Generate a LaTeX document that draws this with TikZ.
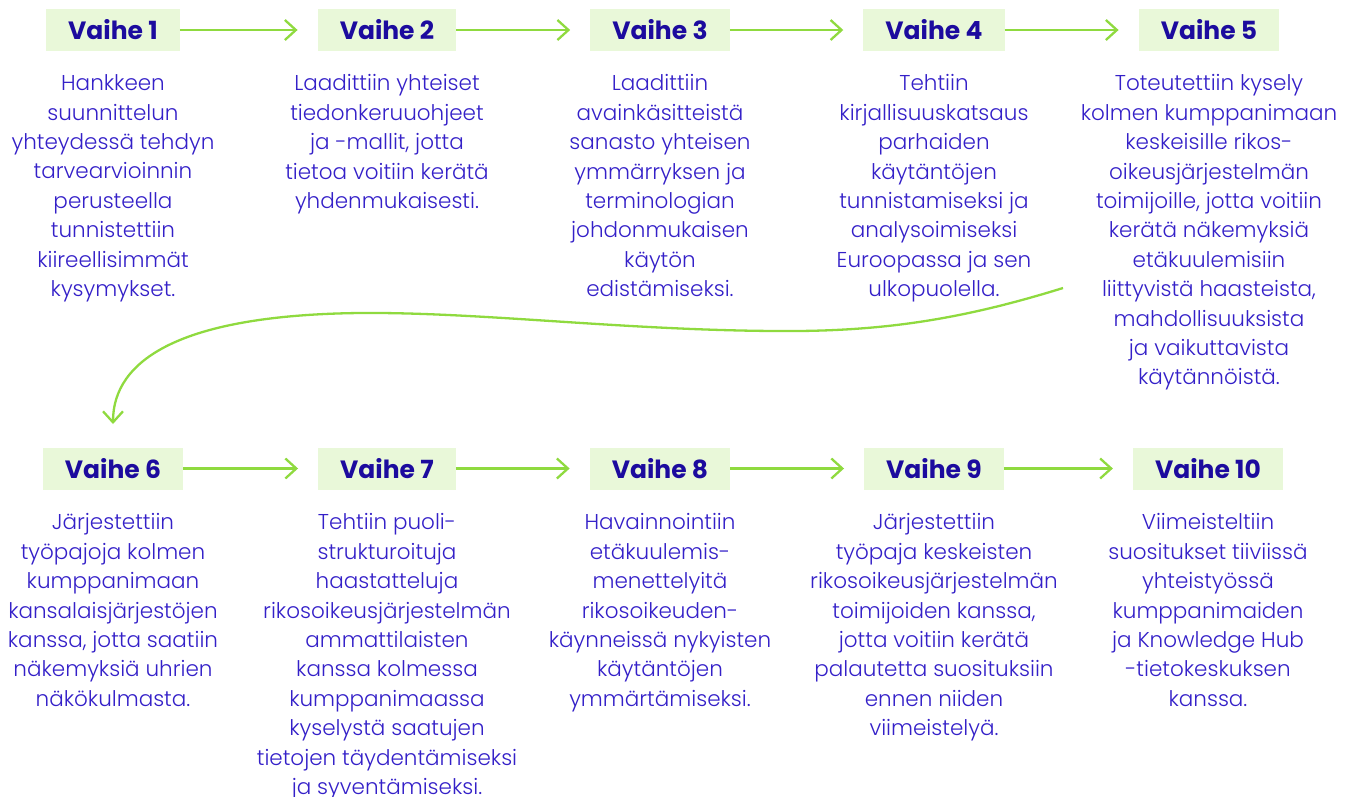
\documentclass[tikz,border=0pt]{standalone}
\usepackage{fontspec}
\setmainfont{Poppins}[UprightFont=* Light]
\newfontfamily\headfont{Poppins}[UprightFont=* Bold]
\usetikzlibrary{arrows.meta}
\definecolor{bodyblue}{HTML}{3420C8}
\definecolor{headblue}{HTML}{1C0B9E}
\definecolor{boxgreen}{HTML}{E9F8D9}
\definecolor{arrowgreen}{HTML}{8FDA3F}
\tikzset{
  stagebox/.style={fill=boxgreen, text=headblue, font=\headfont\fontsize{25}{30}\selectfont,
    minimum height=42pt, inner xsep=22pt, inner ysep=0pt, anchor=center},
  stagetext/.style={text=bodyblue, font=\fontsize{21.5}{29.4}\selectfont, align=center,
    anchor=north, inner sep=0pt},
  flow/.style={draw=arrowgreen, line width=2.3pt, -{Straight Barb[length=11pt,width=20pt,line width=2.3pt]}},
}
\begin{document}
\begin{tikzpicture}[x=1pt,y=-1pt]
\useasboundingbox (0,0) rectangle (1353,796);
% row 1 headers
\node[stagebox] (h1) at (113,30) {Vaihe 1};
\node[stagebox] (h2) at (387,30) {Vaihe 2};
\node[stagebox] (h3) at (660,30) {Vaihe 3};
\node[stagebox] (h4) at (934,30) {Vaihe 4};
\node[stagebox] (h5) at (1209,30) {Vaihe 5};
% row 2 headers
\node[stagebox] (h6) at (113,468.5) {Vaihe 6};
\node[stagebox] (h7) at (387,468.5) {Vaihe 7};
\node[stagebox] (h8) at (660,468.5) {Vaihe 8};
\node[stagebox] (h9) at (934,468.5) {Vaihe 9};
\node[stagebox] (h10) at (1208,468.5) {Vaihe 10};
% texts row 1
\node[stagetext] (t1) at (113,74.5) {Hankkeen\\suunnittelun\\yhteydessä tehdyn\\tarvearvioinnin\\perusteella\\tunnistettiin\\kiireellisimmät\\kysymykset.};
\node[stagetext] (t2) at (387,74.5) {Laadittiin yhteiset\\tiedonkeruuohjeet\\ja -mallit, jotta\\tietoa voitiin kerätä\\yhdenmukaisesti.};
\node[stagetext] (t3) at (660,74.5) {Laadittiin\\avainkäsitteistä\\sanasto yhteisen\\ymmärryksen ja\\terminologian\\johdonmukaisen\\käytön\\edistämiseksi.};
\node[stagetext] (t4) at (934,74.5) {Tehtiin\\kirjallisuuskatsaus\\parhaiden\\käytäntöjen\\tunnistamiseksi ja\\analysoimiseksi\\Euroopassa ja sen\\ulkopuolella.};
\node[stagetext] (t5) at (1209,74.5) {Toteutettiin kysely\\kolmen kumppanimaan\\keskeisille rikos-\\oikeusjärjestelmän\\toimijoille, jotta voitiin\\kerätä näkemyksiä\\etäkuulemisiin\\liittyvistä haasteista,\\mahdollisuuksista\\ja vaikuttavista\\käytännöistä.};
% texts row 2
\node[stagetext] (t6) at (113,513.5) {Järjestettiin\\työpajoja kolmen\\kumppanimaan\\kansalaisjärjestöjen\\kanssa, jotta saatiin\\näkemyksiä uhrien\\näkökulmasta.};
\node[stagetext] (t7) at (387,513.5) {Tehtiin puoli-\\strukturoituja\\haastatteluja\\rikosoikeusjärjestelmän\\ammattilaisten\\kanssa kolmessa\\kumppanimaassa\\kyselystä saatujen\\tietojen täydentämiseksi\\ja syventämiseksi.};
\node[stagetext] (t8) at (660,513.5) {Havainnointiin\\etäkuulemis-\\menettelyitä\\rikosoikeuden-\\käynneissä nykyisten\\käytäntöjen\\ymmärtämiseksi.};
\node[stagetext] (t9) at (934,513.5) {Järjestettiin\\työpaja keskeisten\\rikosoikeusjärjestelmän\\toimijoiden kanssa,\\jotta voitiin kerätä\\palautetta suosituksiin\\ennen niiden\\viimeistelyä.};
\node[stagetext] (t10) at (1208,513.5) {Viimeisteltiin\\suositukset tiiviissä\\yhteistyössä\\kumppanimaiden\\ja Knowledge Hub\\-tietokeskuksen\\kanssa.};
% arrows
\foreach \a/\b in {h1/h2,h2/h3,h3/h4,h4/h5,h6/h7,h7/h8,h8/h9,h9/h10}
  \draw[flow, shorten >=20pt] (\a.east) -- (\b.west);
\coordinate (cs) at (1063,288);
\coordinate (ce) at (113,424);
\draw[flow] (cs) .. controls (960,320) and (880,332) .. (775,331)
  .. controls (620,330) and (480,312) .. (360,313)
  .. controls (180,315) and (113,360) .. (ce);
\end{tikzpicture}
\end{document}
